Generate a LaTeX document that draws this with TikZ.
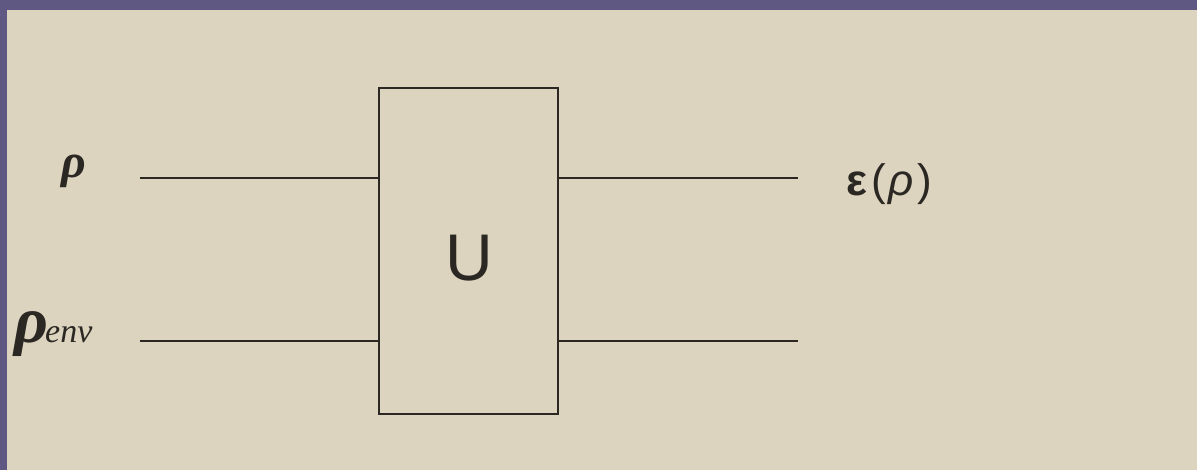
\documentclass[tikz,border=0pt]{standalone}
\usepackage{fontspec}
\setmainfont{Liberation Serif}
\newfontfamily\arialf{Liberation Sans}
\definecolor{bgpurple}{HTML}{5F5882}
\definecolor{panel}{HTML}{DCD4BF}
\definecolor{ink}{HTML}{2B2722}
\begin{document}
\begin{tikzpicture}[x=1pt,y=-1pt,
  wire/.style={draw=ink,line width=1.4pt},
  gate/.style={draw=ink,line width=1.4pt,fill=none},
  lbl/.style={text=ink,inner sep=0pt}]
\useasboundingbox (0,0) rectangle (1197,470);
\fill[bgpurple] (0,0) rectangle (1197,470);
\fill[panel] (7,10) rectangle (1197,470);
% gate box
\draw[gate] (379,88) rectangle (558,414);
\node[lbl,font=\arialf\fontsize{66}{66}\selectfont] (U) at (469,258) {U};
\coordinate (gin1) at (379,178);
\coordinate (gin2) at (379,341);
\coordinate (gout1) at (558,178);
\coordinate (gout2) at (558,341);
\coordinate (in1) at (140,178);
\coordinate (in2) at (140,341);
\coordinate (out1) at (798,178);
\coordinate (out2) at (798,341);
\draw[wire] (in1) -- (gin1);
\draw[wire] (in2) -- (gin2);
\draw[wire] (gout1) -- (out1);
\draw[wire] (gout2) -- (out2);
% labels
\node[lbl,anchor=base,font=\fontsize{48}{48}\selectfont\bfseries\itshape] (rho) at (74,178) {ρ};
\node[lbl,anchor=base west,font=\itshape] (rhoenv) at (14,343) {\fontsize{66}{66}\selectfont\bfseries ρ\kern-3pt\fontsize{34}{34}\selectfont\mdseries env};
\node[lbl,anchor=base west,font=\arialf\fontsize{44}{44}\selectfont] (erho) at (846,196) {\textbf{ε}\kern4pt(\kern3pt\textit{ρ}\kern4pt)};
\end{tikzpicture}
\end{document}
